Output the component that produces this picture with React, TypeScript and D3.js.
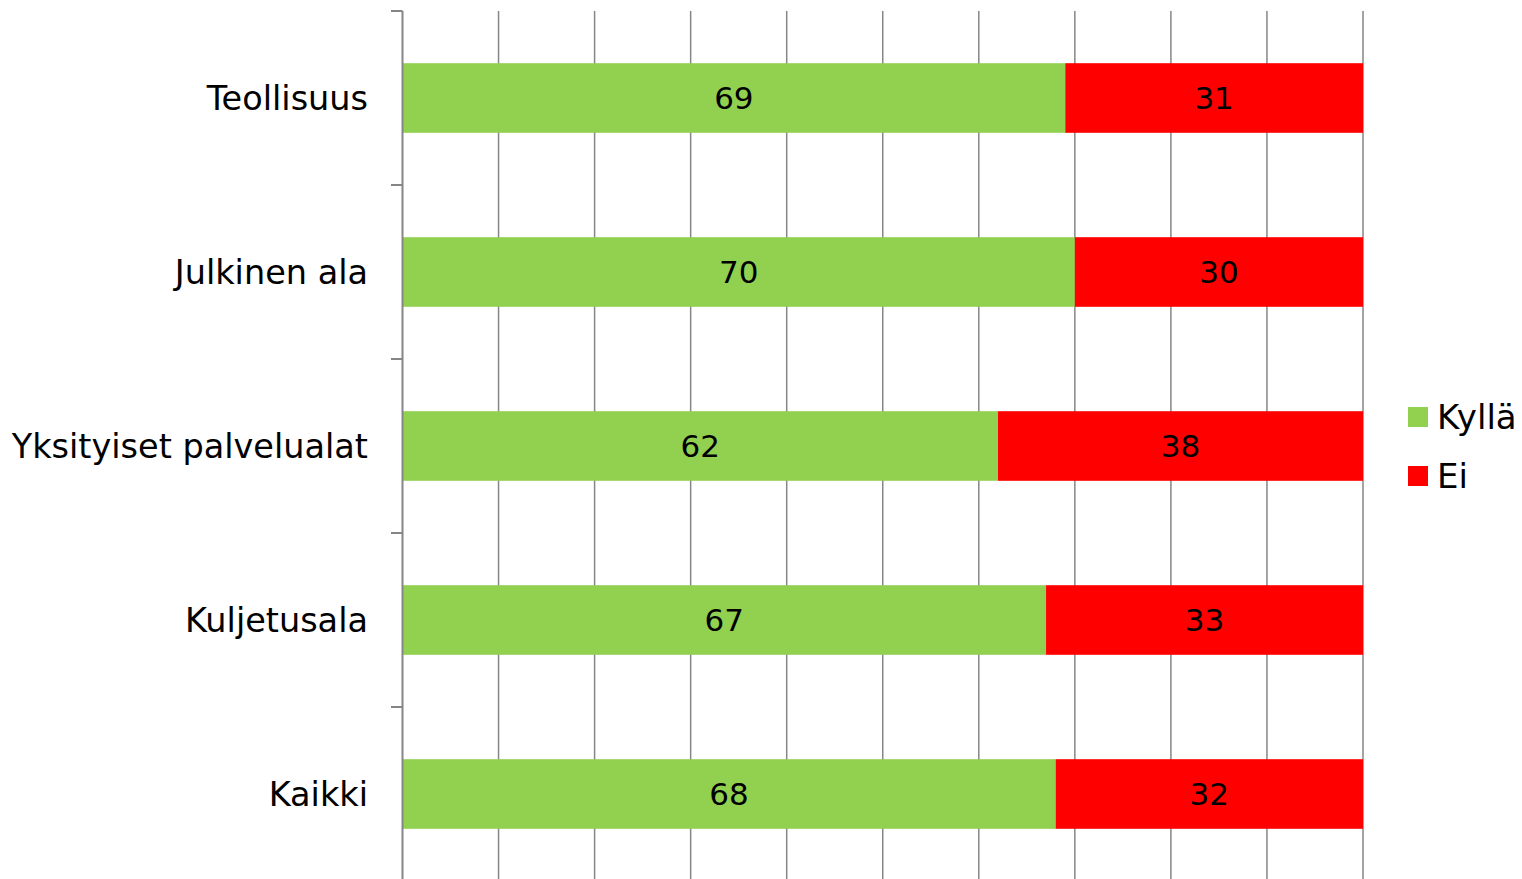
import React from "react";
import * as d3 from "d3";

const categories = ["Teollisuus", "Julkinen ala", "Yksityiset palvelualat", "Kuljetusala", "Kaikki"];
const kylla = [69, 70, 62, 67, 68];
const ei = [31, 30, 38, 33, 32];
const seriesNames = ["Kyllä", "Ei"];
const colors = ["#92D050", "#FF0000"];
const xTicks = [0, 10, 20, 30, 40, 50, 60, 70, 80, 90, 100];

const W = 1522;
const H = 879;
const FONT = "Tahoma, 'DejaVu Sans', Verdana, sans-serif";

export default function App() {
  const x = d3.scaleLinear().domain([0, 100]).range([402.5, 1363]);
  const y = d3.scaleBand().domain(categories).range([11, 881]).paddingInner(0.6).paddingOuter(0.3);
  const boundaries = d3.range(categories.length + 1).map((i) => 11 + i * ((881 - 11) / categories.length));

  const rows = categories.map((c, i) => ({ c, vals: [kylla[i], ei[i]] }));

  return (
    <svg
      width={W}
      height={H}
      style={{ position: "absolute", left: 0, top: 0, background: "#ffffff" }}
      fontFamily={FONT}
    >
      {xTicks.slice(1).map((t) => (
        <line key={t} x1={x(t)} x2={x(t)} y1={11} y2={H} stroke="#868686" strokeWidth={1.5} />
      ))}
      {rows.map((r) => {
        let acc = 0;
        return (
          <g key={r.c}>
            {r.vals.map((v, j) => {
              const x0 = x(acc);
              acc += v;
              const x1 = x(acc);
              return (
                <g key={j}>
                  <rect x={x0} y={y(r.c)!} width={x1 - x0} height={y.bandwidth()} fill={colors[j]} />
                  <text
                    x={(x0 + x1) / 2}
                    y={y(r.c)! + y.bandwidth() / 2}
                    dy="0.36em"
                    textAnchor="middle"
                    fontSize={31}
                    fill="#000"
                  >
                    {v}
                  </text>
                </g>
              );
            })}
            <text
              x={368}
              y={y(r.c)! + y.bandwidth() / 2}
              dy="0.36em"
              textAnchor="end"
              fontSize={33.5}
              fill="#000"
            >
              {r.c}
            </text>
          </g>
        );
      })}
      <line x1={402.5} x2={402.5} y1={11} y2={H} stroke="#868686" strokeWidth={2} />
      {boundaries.map((b, i) => (
        <line key={i} x1={391} x2={402.5} y1={b} y2={b} stroke="#868686" strokeWidth={2} />
      ))}
      {seriesNames.map((s, i) => (
        <g key={s} transform={`translate(1408, ${407 + i * 59})`}>
          <rect x={0} y={0} width={20} height={20} fill={colors[i]} />
          <text x={29} y={10} dy="0.36em" fontSize={34} fill="#000">
            {s}
          </text>
        </g>
      ))}
    </svg>
  );
}
